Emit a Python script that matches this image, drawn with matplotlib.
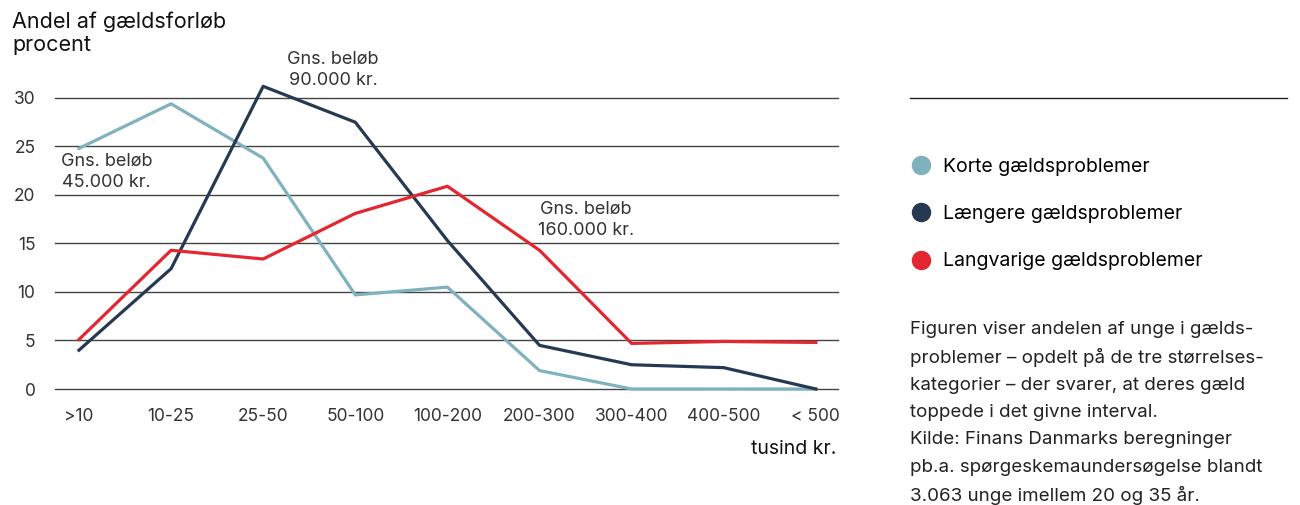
import matplotlib
matplotlib.use('Agg')
import matplotlib.pyplot as plt
from matplotlib.lines import Line2D

plt.rcParams['font.family'] = ['Inter', 'DejaVu Sans']

categories = ['>10', '10-25', '25-50', '50-100', '100-200', '200-300', '300-400', '400-500', '< 500']
korte = [24.8, 29.4, 23.8, 9.7, 10.5, 1.9, 0.0, 0.0, 0.0]
laengere = [4.0, 12.4, 31.2, 27.5, 15.3, 4.5, 2.5, 2.2, 0.0]
langvarige = [5.1, 14.3, 13.4, 18.1, 20.9, 14.3, 4.7, 4.9, 4.8]
series_names = ['Korte gældsproblemer', 'Længere gældsproblemer', 'Langvarige gældsproblemer']
colors = ['#7fb2bd', '#253a52', '#e3262f']
yticks = [0, 5, 10, 15, 20, 25, 30]

note_lines = ["Figuren viser andelen af unge i gælds-",
              "problemer – opdelt på de tre størrelses-",
              "kategorier – der svarer, at deres gæld",
              "toppede i det givne interval.",
              "Kilde: Finans Danmarks beregninger",
              "pb.a. spørgeskemaundersøgelse blandt",
              "3.063 unge imellem 20 og 35 år."]

fig = plt.figure(figsize=(13, 5.05), dpi=100)
ax = fig.add_axes([0.0423, 0.2297, 0.6023, 0.5763])

x = range(len(categories))
for vals, c in zip([korte, laengere, langvarige], colors):
    ax.plot(x, vals, color=c, linewidth=2.3, clip_on=False, zorder=3)

ax.set_xlim(-0.26, 8.24)
ax.set_ylim(0, 30)
ax.set_yticks(yticks)
ax.set_xticks(list(x))
ax.set_xticklabels(categories)
for yv in yticks:
    ax.axhline(yv, color='#444444', linewidth=1.0, zorder=1, clip_on=False)
for s in ax.spines.values():
    s.set_visible(False)
ax.tick_params(axis='both', length=0, labelsize=12.5, colors='#333333')
ax.tick_params(axis='y', pad=14)
ax.tick_params(axis='x', pad=14)
for lbl in ax.get_yticklabels():
    lbl.set_horizontalalignment('right')

# annotations
ann_kw = dict(ha='center', va='center', fontsize=13, color='#333333', linespacing=1.35)
ax.text(0.3, 22.35, 'Gns. beløb\n45.000 kr.', **ann_kw)
ax.text(2.76, 32.9, 'Gns. beløb\n90.000 kr.', **ann_kw)
ax.text(5.5, 17.4, 'Gns. beløb\n160.000 kr.', **ann_kw)

fig.text(12 / 1300, 1 - 22 / 505, 'Andel af gældsforløb', ha='left', va='center',
         fontsize=15.5, color='#111111')
fig.text(12 / 1300, 1 - 45 / 505, 'procent', ha='left', va='center',
         fontsize=15.5, color='#111111')
fig.text(836 / 1300, 1 - 449 / 505, 'tusind kr.', ha='right', va='center',
         fontsize=14, color='#111111')

# top rule over the legend
fig.add_artist(Line2D([910 / 1300, 1287 / 1300], [1 - 98 / 505, 1 - 98 / 505],
                      color='#222222', linewidth=1.0))

handles = [Line2D([], [], marker='o', linestyle='', color=c, markersize=13) for c in colors]
fig.legend(handles, series_names, loc='upper left', bbox_to_anchor=(911 / 1300, 1 - 158 / 505),
           frameon=False, fontsize=14, labelspacing=1.5, handletextpad=0.65,
           borderpad=0, borderaxespad=0, handlelength=1.0)

for i, line in enumerate(note_lines):
    fig.text(910 / 1300, 1 - (328 + 27.5 * i) / 505, line, ha='left', va='center_baseline',
             fontsize=13.5, color='#222222')

fig.savefig('out.png', dpi=100)
